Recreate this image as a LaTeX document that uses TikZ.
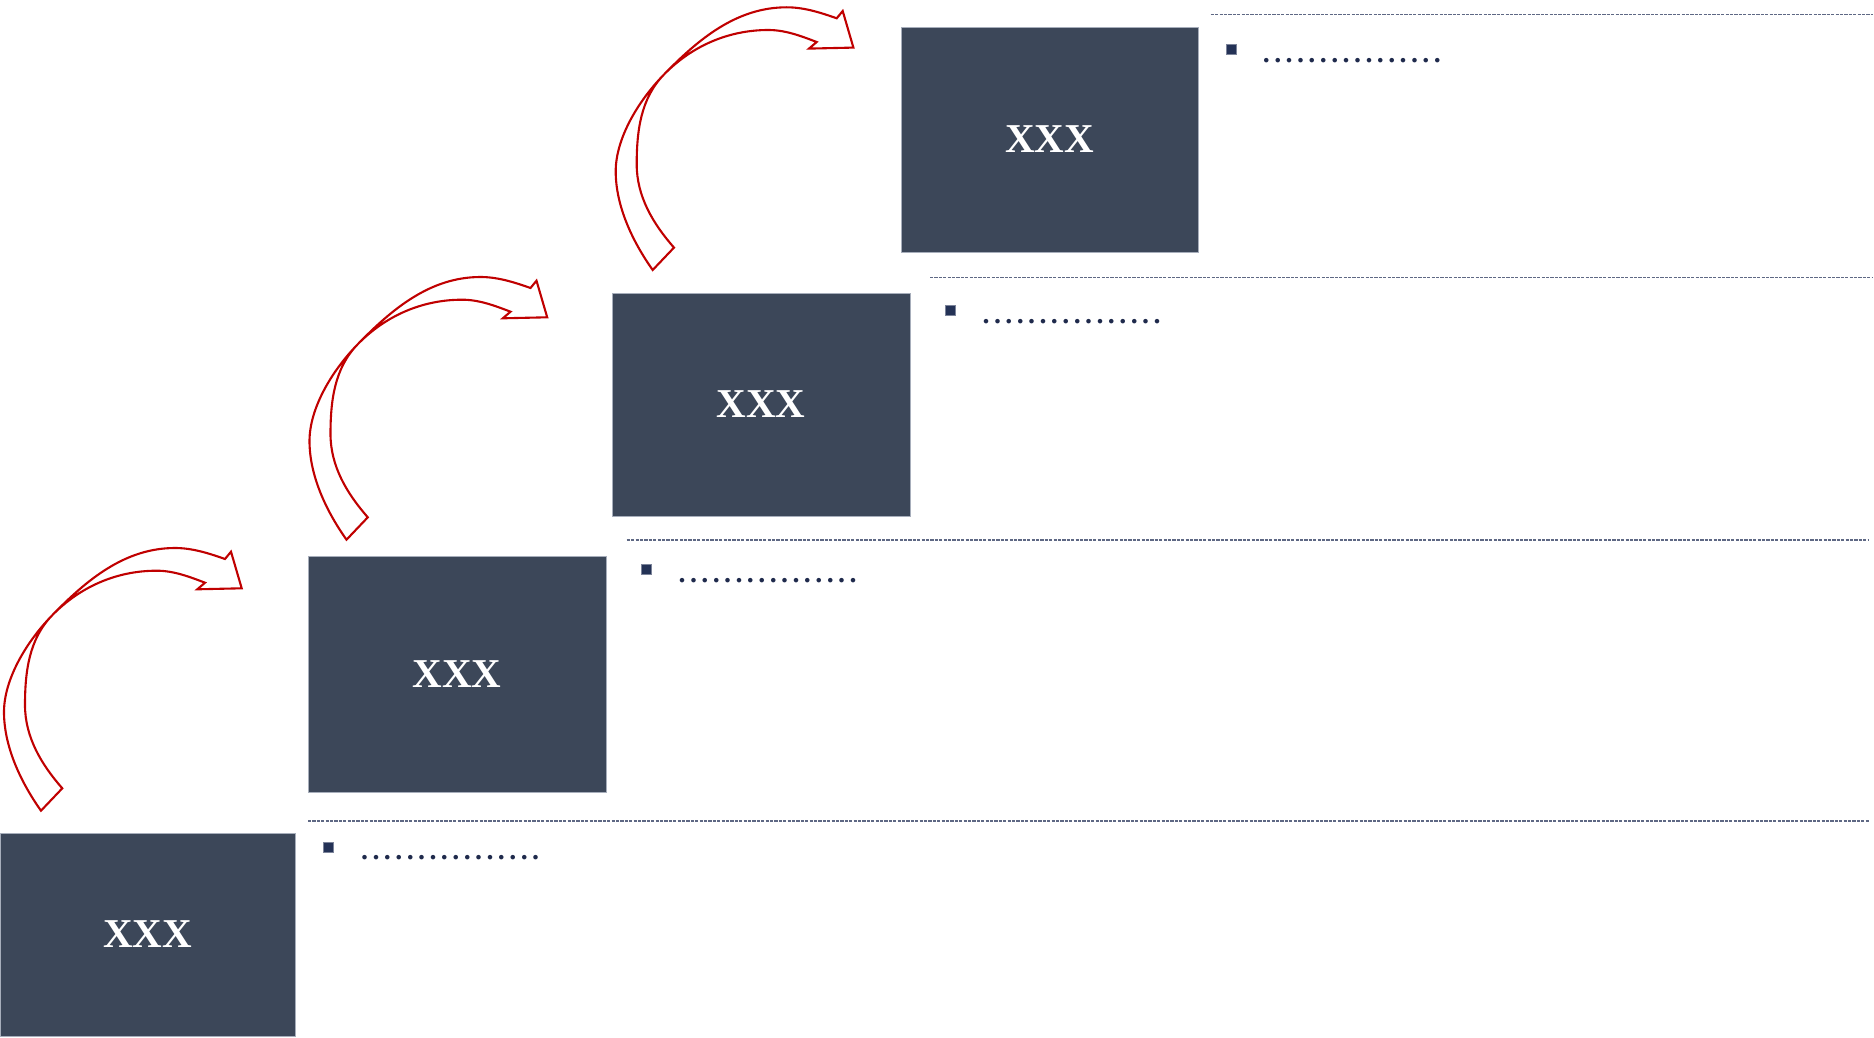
\documentclass[tikz,border=0pt]{standalone}
\usepackage{fontspec}
\setmainfont{Liberation Serif}
\definecolor{boxfill}{HTML}{3C4759}
\definecolor{boxedge}{HTML}{A7AEBB}
\definecolor{dashcol}{HTML}{5E6884}
\definecolor{navy}{HTML}{1F2A4C}
\definecolor{sqfill}{HTML}{243256}
\definecolor{arrred}{HTML}{C00000}
\newcommand\dotcellx{\hbox to 5.7pt{\hss.\hss}}
\newcommand\dotrowx{\dotcellx\dotcellx\dotcellx\dotcellx\dotcellx\dotcellx\dotcellx\dotcellx\dotcellx\dotcellx\dotcellx\dotcellx\dotcellx\dotcellx\dotcellx\dotcellx}
\tikzset{
  stepbox/.style={fill=boxfill, draw=boxedge, line width=0.4pt, inner sep=0pt,
    text=white, font=\bfseries\fontsize{20.5}{24}\selectfont},
  divider/.style={draw=dashcol, line width=0.8pt, dash pattern=on 1.6pt off 0.6pt},
  bulletsq/.style={rectangle, fill=sqfill, draw=sqfill!60!white, line width=0.3pt,
    minimum size=5pt, inner sep=0pt},
  dotline/.style={anchor=base west, inner sep=0pt, text=navy,
    font=\bfseries\fontsize{14}{17}\selectfont},
  redarrow/.style={draw=arrred, line width=1.05pt, line join=miter, fill=white},
  pics/curvarrow/.style={code={
    \draw[redarrow] (41,810.7) .. controls (20.1,781.2) and (4,746) .. (4,712)
      .. controls (4,680) and (25.4,642.9) .. (52,615.5)
      .. controls (87,579.5) and (125,548) .. (175,548)
      .. controls (192,548) and (208,553) .. (225,559)
      -- (231,551.7) -- (241.7,588.3) -- (197.3,589.3) -- (205,582.7)
      .. controls (190,577) and (174,570.7) .. (156.7,570.7)
      .. controls (116.7,570.7) and (80,586.7) .. (52,615.5)
      .. controls (28.9,639.3) and (25,672) .. (25,705)
      .. controls (25,737) and (41.2,764.3) .. (62.3,788.3)
      -- cycle;
  }}
}
\begin{document}
\begin{tikzpicture}[x=0.5pt, y=-0.5pt]
\useasboundingbox (0,0) rectangle (1874,1038);

% step boxes
\node[stepbox, minimum width=147.5pt, minimum height=101.5pt] (b1) at (147.5,934.5) {XXX};
\node[stepbox, minimum width=149pt, minimum height=118pt] (b2) at (457,674) {XXX};
\node[stepbox, minimum width=149pt, minimum height=111.5pt] (b3) at (761,404.5) {XXX};
\node[stepbox, minimum width=148.5pt, minimum height=112.5pt] (b4) at (1049.5,139.5) {XXX};

% dashed dividers
\coordinate (l1a) at (308,821);    \coordinate (l1b) at (1869,821);
\coordinate (l2a) at (626.7,540);  \coordinate (l2b) at (1869,540);
\coordinate (l3a) at (930,277.5);  \coordinate (l3b) at (1872,277.5);
\coordinate (l4a) at (1210.7,14.7);\coordinate (l4b) at (1873,14.7);
\draw[divider] (l1a) -- (l1b);
\draw[divider] (l2a) -- (l2b);
\draw[divider] (l3a) -- (l3b);
\draw[divider] (l4a) -- (l4b);

% bullets
\node[bulletsq] (s1) at (328.7,847) {};
\node[bulletsq] (s2) at (646,569) {};
\node[bulletsq] (s3) at (950.3,310) {};
\node[bulletsq] (s4) at (1230.8,49.2) {};

% dotted text
\node[dotline] (d1) at (358.6,859.8) {\dotrowx};
\node[dotline] (d2) at (676,582.2) {\dotrowx};
\node[dotline] (d3) at (980,323.2) {\dotrowx};
\node[dotline] (d4) at (1260.3,62.5) {\dotrowx};

% curved arrows
\pic at (0,0) {curvarrow};
\pic at (305.5,-271) {curvarrow};
\pic at (611.7,-540.7) {curvarrow};
\end{tikzpicture}
\end{document}
